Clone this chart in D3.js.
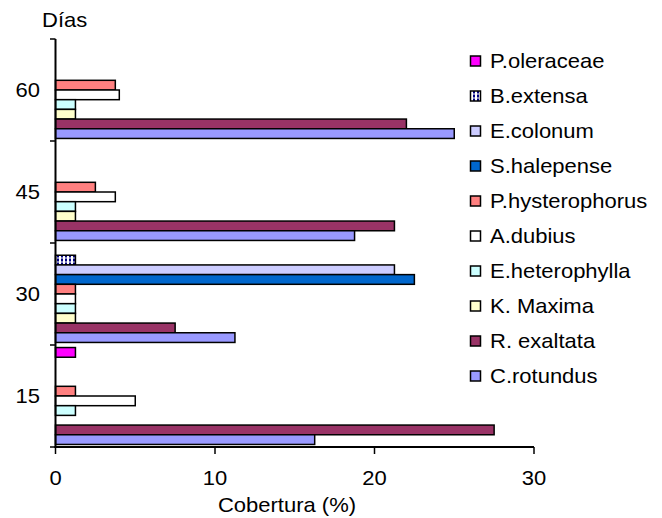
<!DOCTYPE html>
<html>
<head>
<meta charset="utf-8">
<script src="https://cdn.jsdelivr.net/npm/d3@7/dist/d3.min.js"></script>
<style>
  html, body { margin: 0; padding: 0; background: #fff; }
  svg text { font-family: "Liberation Sans", Arial, sans-serif; fill: #000; }
</style>
</head>
<body>
<svg id="chart" width="662" height="518"></svg>
<script>
// ---- data ----
const categories = ["15", "30", "45", "60"];
const seriesNames = ["P.oleraceae", "B.extensa", "E.colonum", "S.halepense", "P.hysterophorus",
                     "A.dubius", "E.heterophylla", "K. Maxima", "R. exaltata", "C.rotundus"];
const pOleraceae     = [1.25, 0, 0, 0];
const bExtensa       = [0, 1.25, 0, 0];
const eColonum       = [0, 21.25, 0, 0];
const sHalepense     = [0, 22.5, 0, 0];
const pHysterophorus = [1.25, 1.25, 2.5, 3.75];
const aDubius        = [5, 1.25, 3.75, 4];
const eHeterophylla  = [1.25, 1.25, 1.25, 1.25];
const kMaxima        = [0, 1.25, 1.25, 1.25];
const rExaltata      = [27.5, 7.5, 21.25, 22];
const cRotundus      = [16.25, 11.25, 18.75, 25];
const seriesValues = [pOleraceae, bExtensa, eColonum, sHalepense, pHysterophorus,
                      aDubius, eHeterophylla, kMaxima, rExaltata, cRotundus];
const xTicks = [0, 10, 20, 30];
const colors = ["#FF00FF", "url(#bext)", "#CCCCFF", "#0066CC", "#FF8080",
                "#FFFFFF", "#CCFFFF", "#FFFFCC", "#993366", "#9999FF"];

const FS = 20, SX = 1.1;
const svg = d3.select("#chart");
function txt(g, x0, y0, s, anchor) {
  return g.append("text")
    .attr("transform", `translate(${x0},${y0}) scale(${SX},1)`)
    .attr("text-anchor", anchor || "start")
    .attr("font-size", FS).text(s);
}

const defs = svg.append("defs");
const pat = defs.append("pattern").attr("id", "bext").attr("patternUnits", "userSpaceOnUse")
  .attr("width", 4).attr("height", 4);
pat.append("rect").attr("width", 4).attr("height", 4).attr("fill", "#fff");
pat.append("rect").attr("x", 1).attr("y", 0).attr("width", 2).attr("height", 4).attr("fill", "#000080");
pat.append("rect").attr("x", 0).attr("y", 1.5).attr("width", 4).attr("height", 1).attr("fill", "#fff");

const x = d3.scaleLinear().domain([0, 30]).range([55.5, 534]);
const y = d3.scaleBand().domain(categories).range([447, 39]).paddingInner(0.05).paddingOuter(0.025);
const ys = d3.scaleBand().domain(seriesNames).range([0, y.bandwidth()]);

// bars
const rows = [];
categories.forEach((c, ci) => {
  seriesNames.forEach((s, si) => {
    rows.push({ cat: c, s: s, si: si, v: seriesValues[si][ci] });
  });
});
svg.append("g").selectAll("rect").data(rows.filter(d => d.v > 0)).join("rect")
  .attr("x", x(0))
  .attr("y", d => y(d.cat) + ys(d.s))
  .attr("width", d => x(d.v) - x(0))
  .attr("height", ys.bandwidth())
  .attr("fill", d => colors[d.si])
  .attr("stroke", "#000").attr("stroke-width", 1.5);

// y axis
const gy = svg.append("g");
gy.append("line").attr("x1", 55.5).attr("x2", 55.5).attr("y1", 39).attr("y2", 448)
  .attr("stroke", "#000").attr("stroke-width", 2);
const yTickPos = d3.range(0, 5).map(i => 447 - i * y.step());
gy.selectAll("line.t").data(yTickPos).join("line").attr("class", "t")
  .attr("x1", 50).attr("x2", 55.5).attr("y1", d => d).attr("y2", d => d)
  .attr("stroke", "#000").attr("stroke-width", 1.5);
categories.forEach(c => txt(gy, 40, y(c) + y.bandwidth() / 2 + 7, c, "end"));

// x axis
const gx = svg.append("g");
gx.append("line").attr("x1", 54.5).attr("x2", 534).attr("y1", 447).attr("y2", 447)
  .attr("stroke", "#000").attr("stroke-width", 2);
gx.selectAll("line.t").data(xTicks).join("line").attr("class", "t")
  .attr("x1", d => x(d)).attr("x2", d => x(d)).attr("y1", 447).attr("y2", 454)
  .attr("stroke", "#000").attr("stroke-width", 1.5);
xTicks.forEach(t => txt(gx, x(t), 485, String(t), "middle"));

// titles
txt(svg, 42, 27, "Días");
txt(svg, 287, 512, "Cobertura (%)", "middle");

// legend
const lg = svg.append("g");
seriesNames.forEach((s, i) => {
  const cy = 61 + i * 35;
  lg.append("rect").attr("x", 470.5).attr("y", cy - 5).attr("width", 10).attr("height", 10)
    .attr("fill", colors[i]).attr("stroke", "#000").attr("stroke-width", 1.5);
  txt(lg, 490, cy + 6.5, s);
});
</script>
</body>
</html>
